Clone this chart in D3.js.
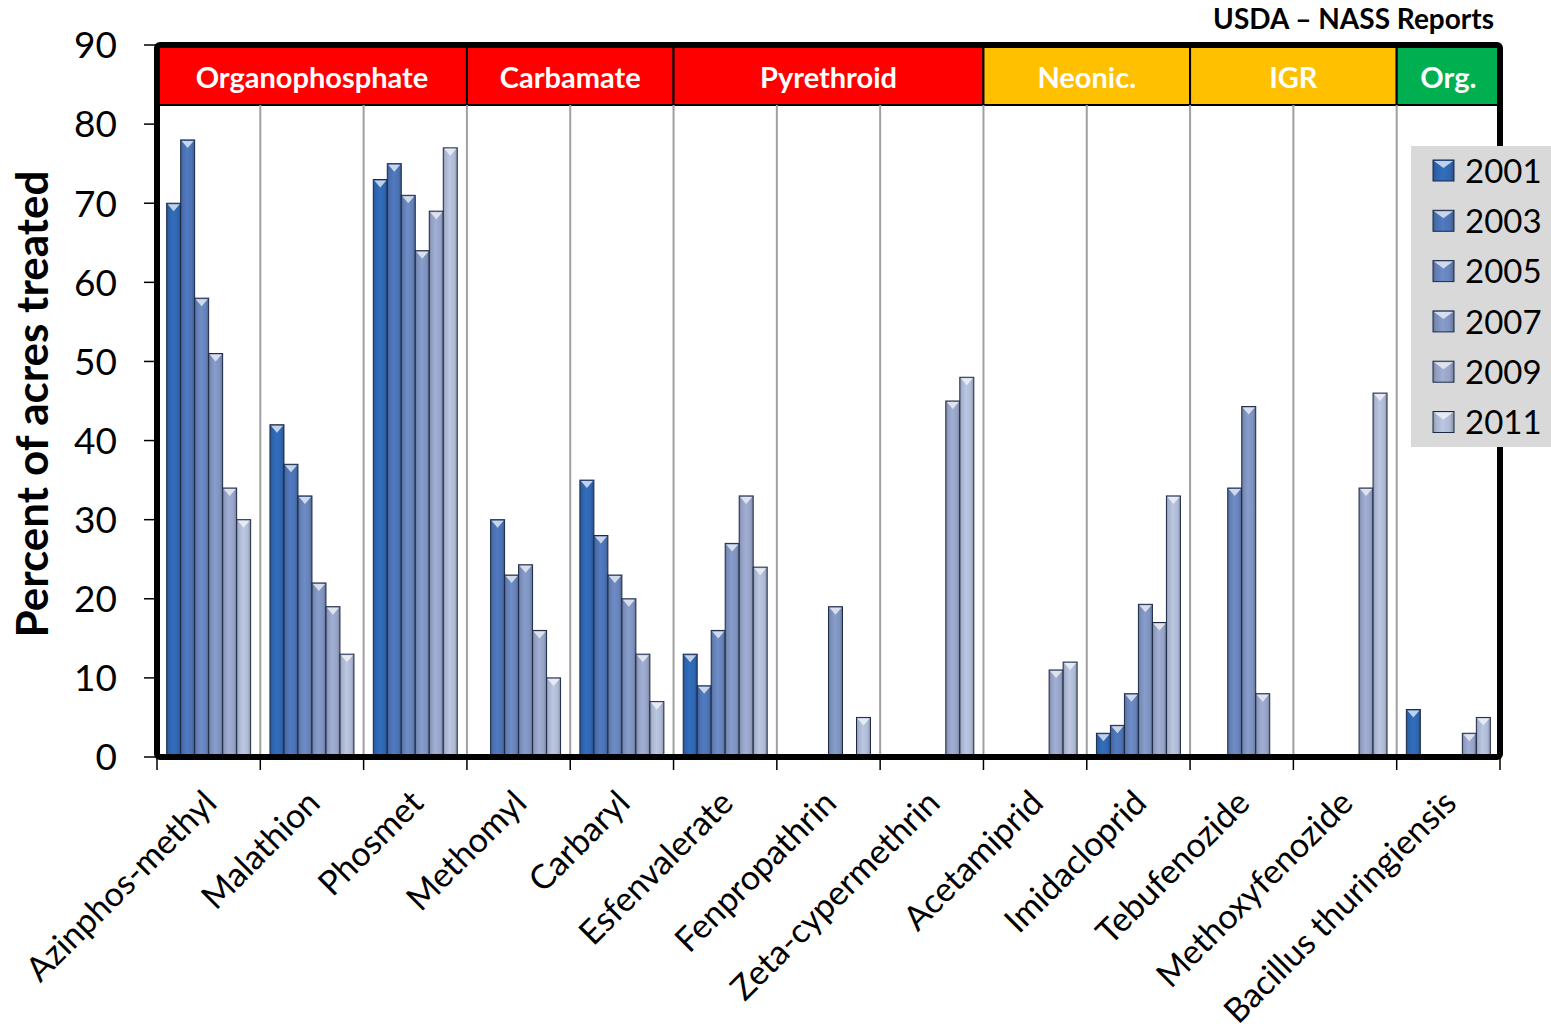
<!DOCTYPE html>
<html>
<head>
<meta charset="utf-8">
<script src="https://cdn.jsdelivr.net/npm/d3@7"></script>
<style>
  body { margin: 0; background: #fff; }
  svg { display: block; font-family: Lato, "Open Sans", sans-serif; }
</style>
</head>
<body>
<div id="chart"></div>
<script>
const width = 1551, height = 1033;

// data (null = not reported)
const chemicals = ['Azinphos-methyl', 'Malathion', 'Phosmet', 'Methomyl', 'Carbaryl',
  'Esfenvalerate', 'Fenpropathrin', 'Zeta-cypermethrin', 'Acetamiprid', 'Imidacloprid',
  'Tebufenozide', 'Methoxyfenozide', 'Bacillus thuringiensis'];
const years = ['2001', '2003', '2005', '2007', '2009', '2011'];
const values = [
  [70, 78, 58, 51, 34, 30],
  [42, 37, 33, 22, 19, 13],
  [73, 75, 71, 64, 69, 77],
  [null, 30, 23, 24.3, 16, 10],
  [35, 28, 23, 20, 13, 7],
  [13, 9, 16, 27, 33, 24],
  [null, null, null, 19, null, 5],
  [null, null, null, null, 45, 48],
  [null, null, null, null, 11, 12],
  [3, 4, 8, 19.3, 17, 33],
  [null, null, 34, 44.3, 8, null],
  [null, null, null, null, 34, 46],
  [6, null, null, null, 3, 5]
];
// insecticide classes spanning the columns
const classNames = ['Organophosphate', 'Carbamate', 'Pyrethroid', 'Neonic.', 'IGR', 'Org.'];
const classSpans = [[0, 2], [3, 4], [5, 7], [8, 9], [10, 11], [12, 12]];
const classColors = ['#ff0000', '#ff0000', '#ff0000', '#ffc000', '#ffc000', '#00b050'];
const yTicks = [0, 10, 20, 30, 40, 50, 60, 70, 80, 90];
const yearColors = ['#2f66b1', '#4b72b3', '#6682b9', '#7e92be', '#96a3c6', '#aeb9d3'];

const plotL = 157, plotR = 1500, plotT = 45, plotB = 757;
const bandBottom = 105;

const svg = d3.select('#chart').append('svg')
  .attr('width', width).attr('height', height);

const x0 = d3.scaleBand().domain(chemicals).range([plotL, plotR]);
const x1 = d3.scaleBand().domain(years).range([0, x0.bandwidth()]).paddingOuter(0.69);
const y = d3.scaleLinear().domain([0, 90]).range([plotB, plotT]);

// bar gradients, darker at the edges like the bevel look
const defs = svg.append('defs');
years.forEach((yr, i) => {
  const c = d3.color(yearColors[i]);
  const g = defs.append('linearGradient').attr('id', 'g' + yr)
    .attr('x1', 0).attr('x2', 1).attr('y1', 0).attr('y2', 0);
  g.append('stop').attr('offset', 0).attr('stop-color', c.darker(0.6));
  g.append('stop').attr('offset', 0.15).attr('stop-color', c.darker(0.1));
  g.append('stop').attr('offset', 0.45).attr('stop-color', c.brighter(0.2));
  g.append('stop').attr('offset', 0.8).attr('stop-color', c);
  g.append('stop').attr('offset', 1).attr('stop-color', c.darker(0.7));
});
const tipColor = i => d3.interpolateRgb(yearColors[i], '#ffffff')(0.7);

// class header band
const bandG = svg.append('g');
classNames.forEach((name, i) => {
  const [a, b] = classSpans[i];
  const xa = x0(chemicals[a]), xb = x0(chemicals[b]) + x0.bandwidth();
  bandG.append('rect')
    .attr('x', xa).attr('y', plotT).attr('width', xb - xa).attr('height', bandBottom - plotT)
    .attr('fill', classColors[i]).attr('stroke', '#000').attr('stroke-width', 2);
  bandG.append('text')
    .attr('x', (xa + xb) / 2).attr('y', (plotT + bandBottom) / 2 + 3)
    .attr('dy', '0.35em').attr('text-anchor', 'middle')
    .attr('fill', '#fff').attr('font-weight', 'bold').attr('font-size', 29)
    .text(name);
});

// vertical gridlines between chemicals
svg.append('g').selectAll('line')
  .data(chemicals.slice(1))
  .join('line')
  .attr('x1', d => x0(d)).attr('x2', d => x0(d))
  .attr('y1', bandBottom).attr('y2', plotB)
  .attr('stroke', '#a0a0a0').attr('stroke-width', 2);

// bars
const groups = svg.append('g').selectAll('g')
  .data(chemicals)
  .join('g')
  .attr('transform', d => `translate(${x0(d)},0)`);

const bars = groups.selectAll('g')
  .data((d, i) => years.map((yr, j) => ({ yr, j, v: values[i][j] })).filter(e => e.v != null))
  .join('g');

bars.append('rect')
  .attr('x', d => x1(d.yr)).attr('y', d => y(d.v))
  .attr('width', x1.bandwidth()).attr('height', d => y(0) - y(d.v))
  .attr('fill', d => `url(#g${d.yr})`)
  .attr('stroke', '#1d2a45').attr('stroke-width', 1);

bars.append('path')
  .attr('d', d => {
    const xa = x1(d.yr) + 1, xb = x1(d.yr) + x1.bandwidth() - 1, yt = y(d.v) + 1;
    return `M${xa},${yt}L${xb},${yt}L${(xa + xb) / 2},${yt + 7}Z`;
  })
  .attr('fill', d => tipColor(d.j));

// frame
svg.append('rect')
  .attr('x', plotL).attr('y', plotT).attr('width', plotR - plotL).attr('height', plotB - plotT)
  .attr('fill', 'none').attr('stroke', '#000').attr('stroke-width', 6).attr('rx', 3);

// y axis ticks and labels
const yAxis = svg.append('g');
yAxis.selectAll('line').data(yTicks).join('line')
  .attr('x1', plotL - 13).attr('x2', plotL)
  .attr('y1', d => y(d)).attr('y2', d => y(d))
  .attr('stroke', '#000').attr('stroke-width', 1.5);
yAxis.selectAll('text').data(yTicks).join('text')
  .attr('x', 117).attr('y', d => y(d)).attr('dy', '0.36em')
  .attr('text-anchor', 'end').attr('font-size', 37).attr('fill', '#000')
  .text(d => d);

// x axis ticks and labels
const xTickPos = chemicals.map(d => x0(d)).concat([plotR]);
svg.append('g').selectAll('line').data(xTickPos).join('line')
  .attr('x1', d => d).attr('x2', d => d)
  .attr('y1', plotB).attr('y2', plotB + 13)
  .attr('stroke', '#000').attr('stroke-width', 1.5);

svg.append('g').selectAll('text').data(chemicals).join('text')
  .attr('transform', d => `translate(${x0(d) + x0.bandwidth() / 2 + 10},${plotB + 48}) rotate(-45)`)
  .attr('text-anchor', 'end').attr('font-size', 34).attr('fill', '#000')
  .text(d => d);

// y axis title
svg.append('text')
  .attr('transform', `translate(48,${404}) rotate(-90)`)
  .attr('text-anchor', 'middle').attr('font-size', 44).attr('font-weight', 'bold')
  .text('Percent of acres treated');

// source note
svg.append('text')
  .attr('x', 1494).attr('y', 29).attr('text-anchor', 'end')
  .attr('font-size', 28).attr('font-weight', 'bold')
  .text('USDA – NASS Reports');

// legend
const legend = svg.append('g');
legend.append('rect')
  .attr('x', 1411).attr('y', 146).attr('width', 140).attr('height', 301)
  .attr('fill', '#d9d9d9');
const items = legend.selectAll('g.item').data(years).join('g')
  .attr('class', 'item')
  .attr('transform', (d, i) => `translate(1433,${160 + i * 50.3})`);
items.append('rect')
  .attr('width', 21).attr('height', 21)
  .attr('fill', d => `url(#g${d})`).attr('stroke', '#1d2a45').attr('stroke-width', 1);
items.append('path')
  .attr('d', 'M1,1L20,1L10.5,8Z')
  .attr('fill', (d, i) => tipColor(i));
items.append('text')
  .attr('x', 32).attr('y', 11).attr('dy', '0.36em')
  .attr('font-size', 33).attr('fill', '#000')
  .text(d => d);
</script>
</body>
</html>
